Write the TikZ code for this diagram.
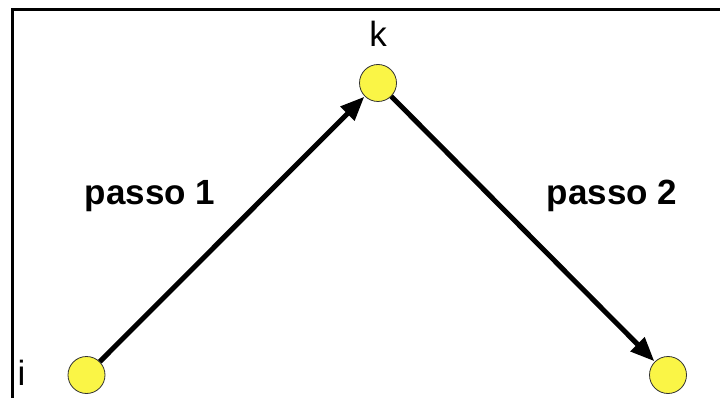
\documentclass[tikz,border=0pt]{standalone}
\usepackage{fontspec}
\setmainfont{Liberation Sans}
\usetikzlibrary{arrows.meta}
\definecolor{nodeyellow}{RGB}{250,245,70}
\begin{document}
\begin{tikzpicture}[x=1pt,y=-1pt,
  vertex/.style={circle,draw=black!80,line width=0.8pt,fill=nodeyellow,minimum size=37pt,inner sep=0pt},
  conn/.style={line width=5pt,-{Triangle[length=24pt,width=19pt]},shorten >=0.5pt},
  steplabel/.style={font=\fontsize{35}{40}\selectfont\bfseries,anchor=base},
  namelabel/.style={font=\fontsize{35}{40}\selectfont,anchor=base}]
\useasboundingbox (0,0) rectangle (720,398);
\fill[white] (0,0) rectangle (720,398);
\draw[line width=3pt] (12,398) -- (12,10) -- (720,10);
\node[vertex] (i) at (86.5,375) {};
\node[vertex] (k) at (378,83) {};
\node[vertex] (j) at (668,375) {};
\draw[conn] (i) -- (k);
\draw[conn] (k) -- (j);
\node[namelabel] (ki) at (378,47) {k};
\node[namelabel,anchor=base west] (ii) at (14,385) {i};
\node[steplabel] (p1) at (150,205) {passo 1};
\node[steplabel] (p2) at (612,205) {passo 2};
\end{tikzpicture}
\end{document}
